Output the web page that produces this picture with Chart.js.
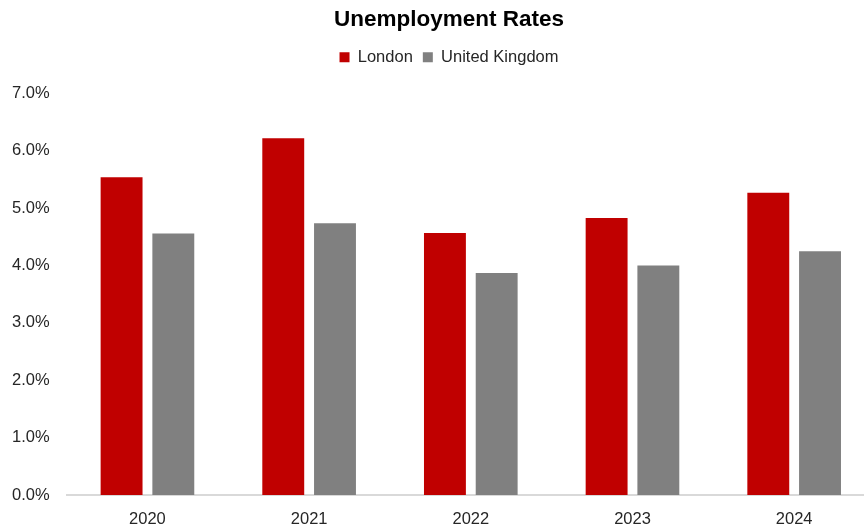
<!DOCTYPE html>
<html>
<head>
<meta charset="utf-8">
<script src="https://cdn.jsdelivr.net/npm/chart.js@4/dist/chart.umd.min.js"></script>
<style>
  html, body { margin: 0; padding: 0; background: #fff; overflow: hidden; }
  #wrap { width: 864px; height: 529px; overflow: hidden; }
</style>
</head>
<body>
<div id="wrap"><canvas id="chart" width="895" height="529"></canvas></div>
<script>
'use strict';

// data
let years=['2020','2021','2022','2023','2024']
let london=[5.54,6.22,4.57,4.83,5.27]
let uk=[4.56,4.74,3.87,4.0,4.25]
let yTicks=[0,1,2,3,4,5,6,7]

let fontName="'Liberation Sans', Arial, sans-serif"

// push the plot area down a bit below the legend
let legendGap={
    id:'legendGap',
    beforeInit:function(chart){
        let origFit=chart.legend.fit
        chart.legend.fit=function(){
            origFit.bind(chart.legend)()
            this.height+=18
        }
    }
}

let ctx=document.getElementById('chart').getContext('2d')
let myChart=new Chart(ctx,{
    type:'bar',
    data:{
        labels:years,
        datasets:[{
            label:'London',
            data:london,
            backgroundColor:'#c00000',
            categoryPercentage:0.64,
            barPercentage:0.81
        },
        {
            label:'United Kingdom',
            data:uk,
            backgroundColor:'#808080',
            categoryPercentage:0.64,
            barPercentage:0.81
        }]
    },
    plugins:[legendGap],
    options:{
        responsive:false,
        animation:false,
        layout:{padding:{left:3,right:0,top:6,bottom:0}},
        plugins:{
            title:{
                display:true,
                text:'Unemployment Rates',
                color:'#000',
                font:{family:fontName,size:22.5,weight:'bold'},
                padding:{top:0,bottom:6}
            },
            legend:{
                display:true,
                labels:{
                    color:'#262626',
                    font:{family:fontName,size:16.5},
                    boxWidth:10,
                    boxHeight:10,
                    padding:10
                }
            },
            tooltip:{enabled:false}
        },
        scales:{
            x:{
                grid:{display:false},
                border:{display:true,color:'#d9d9d9',width:2},
                ticks:{color:'#262626',font:{family:fontName,size:16.5},padding:7},
                afterFit:function(axis){
                    axis.height=34
                }
            },
            y:{
                min:0,
                max:7,
                grid:{display:false},
                border:{display:false},
                afterBuildTicks:function(axis){
                    axis.ticks=yTicks.map(function(v){return {value:v}})
                },
                ticks:{
                    color:'#262626',
                    font:{family:fontName,size:16.5},
                    padding:9,
                    callback:function(v){return v.toFixed(1)+'%'}
                }
            },
            // empty spacer on the right so the plot runs past the crop
            spacer:{
                type:'linear',
                position:'right',
                grid:{display:false},
                border:{display:false},
                ticks:{display:false},
                afterFit:function(axis){
                    axis.width=20
                }
            }
        }
    }
})
</script>
</body>
</html>
